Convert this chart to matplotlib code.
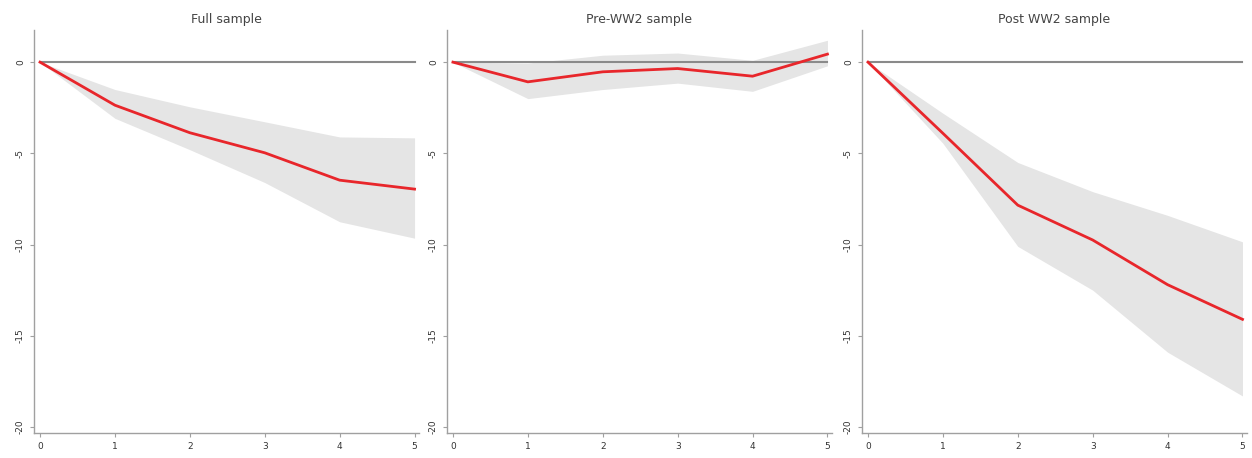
import matplotlib
matplotlib.use('Agg')
import matplotlib.pyplot as plt

horizon = [0, 1, 2, 3, 4, 5]
titles = ['Full sample', 'Pre-WW2 sample', 'Post WW2 sample']

# point estimates
full_est = [0, -2.36, -3.87, -4.97, -6.47, -6.96]
pre_est = [0, -1.08, -0.53, -0.35, -0.77, 0.44]
post_est = [0, -3.9, -7.84, -9.75, -12.2, -14.1]

# confidence bands
full_hi = [0, -1.5, -2.45, -3.27, -4.1, -4.15]
full_lo = [0, -3.08, -4.8, -6.6, -8.75, -9.65]
pre_hi = [0, -0.05, 0.38, 0.5, 0.1, 1.2]
pre_lo = [0, -2.0, -1.5, -1.15, -1.6, -0.2]
post_hi = [0, -2.8, -5.5, -7.1, -8.4, -9.85]
post_lo = [0, -4.45, -10.1, -12.5, -15.9, -18.3]

ests = [full_est, pre_est, post_est]
his = [full_hi, pre_hi, post_hi]
los = [full_lo, pre_lo, post_lo]

fig = plt.figure(figsize=(12.52, 4.58), dpi=100)
lefts = [0.0272, 0.357, 0.6885]
axcol = '#a0a0a0'

for i in range(3):
    ax = fig.add_axes([lefts[i], 0.0546, 0.3075, 0.8794])
    ax.fill_between(horizon, los[i], his[i], color='#e5e5e5', linewidth=0)
    ax.plot(horizon, [0] * len(horizon), color='#8a8a8a', linewidth=1.5)
    ax.plot(horizon, ests[i], color='#e8262b', linewidth=2)
    ax.set_xlim(-0.08, 5.06)
    ax.set_ylim(-20.33, 1.75)
    ax.set_yticks([0, -5, -10, -15, -20])
    ax.set_yticklabels(['0', '-5', '-10', '-15', '-20'], rotation=90, va='center')
    ax.set_xticks(horizon)
    ax.tick_params(colors=axcol, labelcolor='#333333', labelsize=6.5, length=3, width=0.8)
    for side in ['top', 'right']:
        ax.spines[side].set_visible(False)
    for side in ['left', 'bottom']:
        ax.spines[side].set_color(axcol)
        ax.spines[side].set_linewidth(1.0)
    ax.set_title(titles[i], fontsize=9, color='#444444', pad=5)

fig.savefig('out.png', dpi=100)
